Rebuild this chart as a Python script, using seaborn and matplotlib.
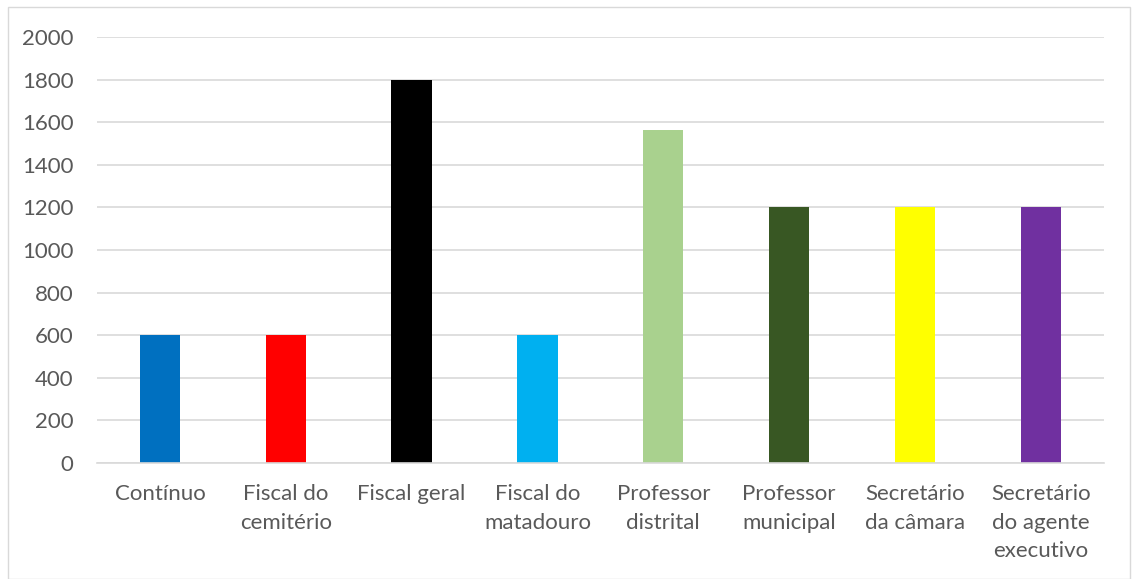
# Bar chart: salary per post (Excel-style look)
import pandas as pd
import matplotlib.pyplot as plt
import seaborn as sns
from matplotlib.patches import Rectangle

categorias = ["Contínuo", "Fiscal do\ncemitério", "Fiscal geral", "Fiscal do\nmatadouro",
              "Professor\ndistrital", "Professor\nmunicipal", "Secretário\nda câmara",
              "Secretário\ndo agente\nexecutivo"]
valores = [600, 600, 1800, 600, 1565, 1200, 1200, 1200]
cores = ["#0070C0", "#FF0000", "#000000", "#00B0F0", "#A9D18E", "#385723", "#FFFF00", "#7030A0"]
y_ticks = [0, 200, 400, 600, 800, 1000, 1200, 1400, 1600, 1800, 2000]

df = pd.DataFrame({"cargo": categorias, "valor": valores})

sns.set_style("white")
plt.rcParams["font.family"] = ["Lato", "DejaVu Sans"]

fig = plt.figure(figsize=(11.32, 5.79), dpi=100)
ax = fig.add_axes([0.0857, 0.2003, 0.8893, 0.7357])

sns.barplot(data=df, x="cargo", y="valor", hue="cargo", palette=cores,
            legend=False, width=0.32, saturation=1, linewidth=0, ax=ax)

ax.set_ylim(0, 2000)
ax.set_yticks(y_ticks)
ax.set_xlim(-0.5, len(categorias) - 0.5)
ax.yaxis.grid(True, color="#d9d9d9", linewidth=1.2)
ax.set_axisbelow(True)
for s in ["top", "right", "left"]:
    ax.spines[s].set_visible(False)
ax.spines["bottom"].set_color("#d9d9d9")
ax.spines["bottom"].set_linewidth(1.2)
ax.set_xlabel("")
ax.set_ylabel("")
ax.tick_params(axis="y", length=0, pad=17, labelsize=16, labelcolor="#595959")
ax.tick_params(axis="x", length=0, pad=15, labelsize=16, labelcolor="#595959")
for lbl in ax.get_xticklabels():
    lbl.set_linespacing(1.55)

# light frame around the chart area
fig.patches.append(Rectangle((8 / 1132, 0), 1122 / 1132, 572 / 579, transform=fig.transFigure,
                             fill=False, edgecolor="#d9d9d9", linewidth=1))

fig.savefig("out.png", dpi=100)
